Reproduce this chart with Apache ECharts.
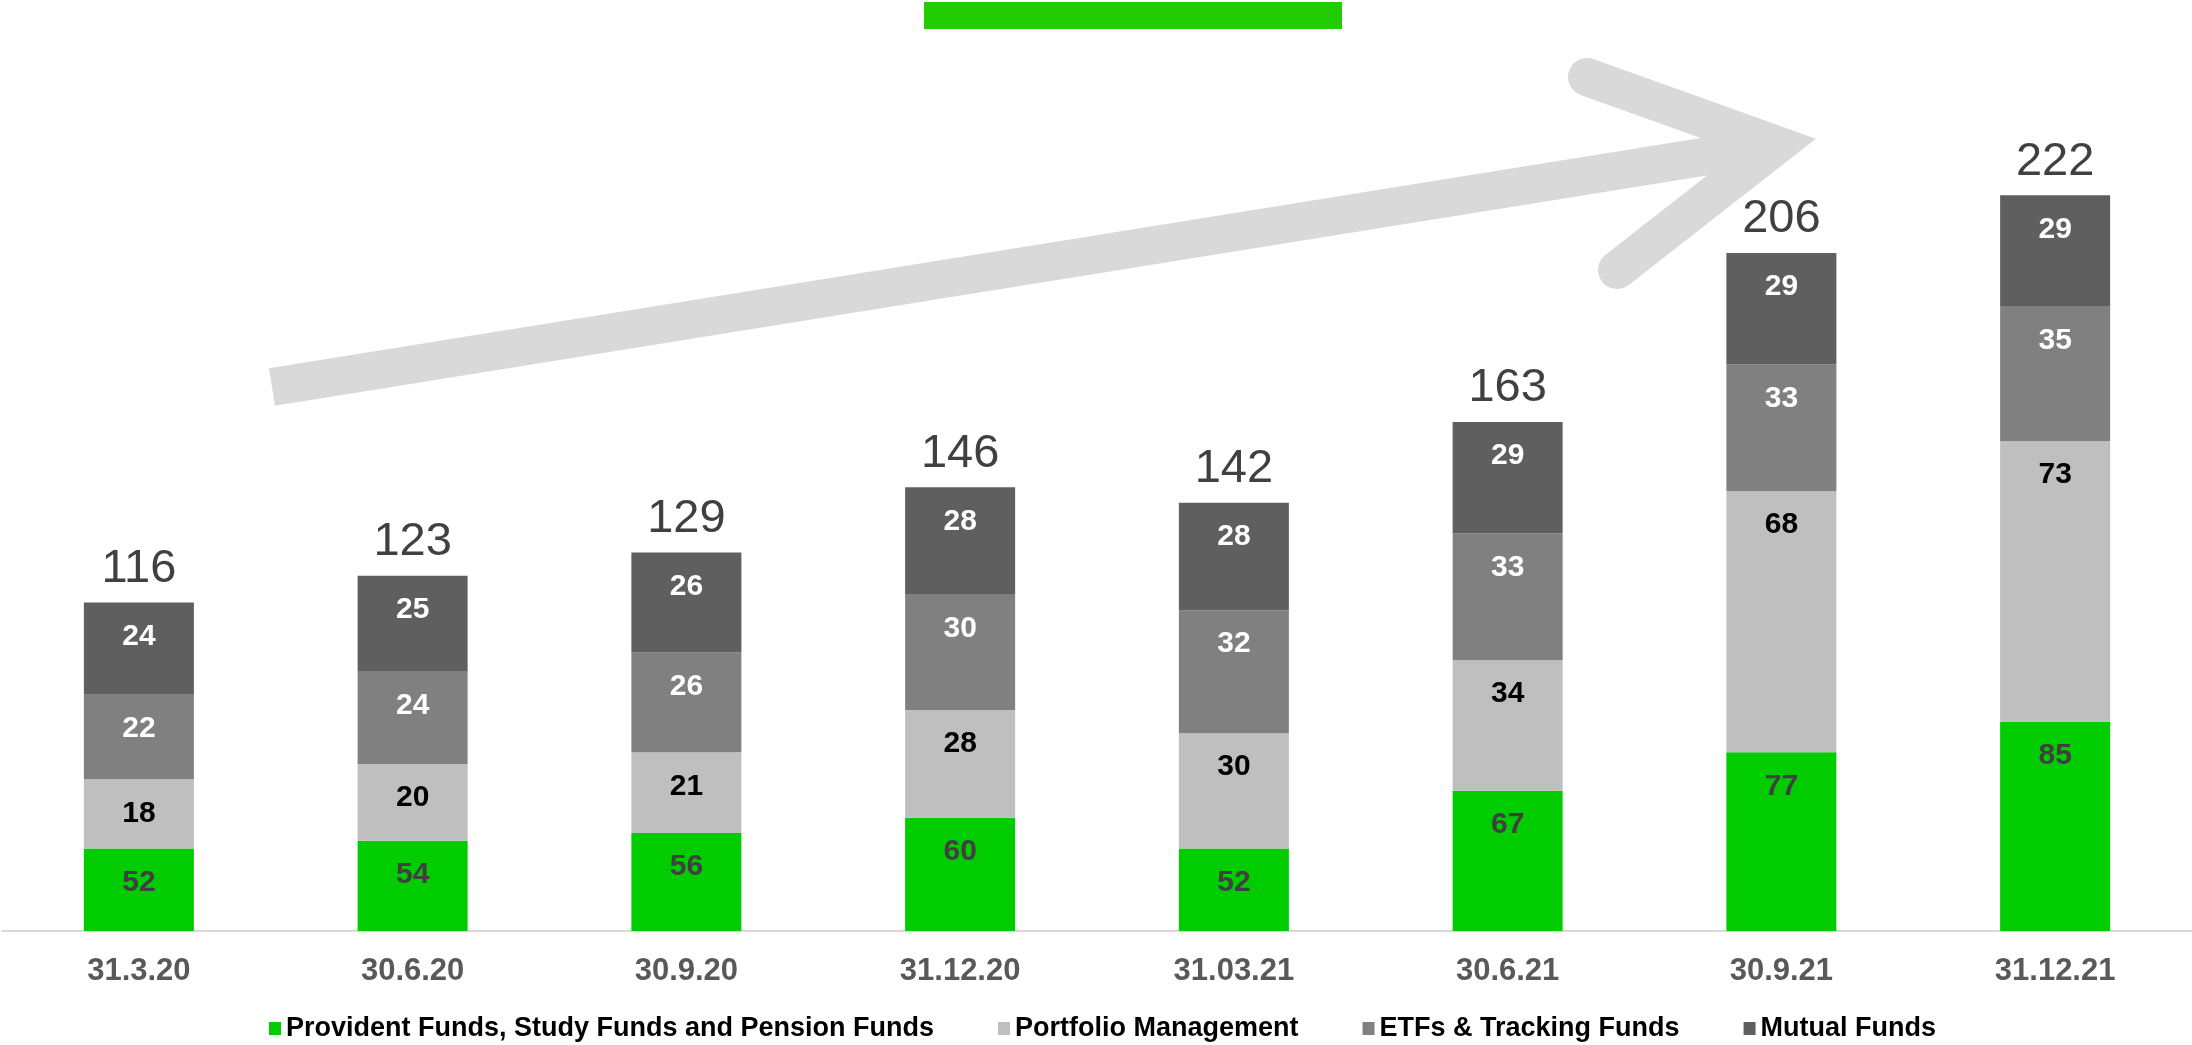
<!DOCTYPE html>
<html>
<head>
<meta charset="utf-8">
<script src="https://cdn.jsdelivr.net/npm/echarts@6/dist/echarts.min.js"></script>
<style>
html,body{margin:0;padding:0;background:#fff;}
#chart{width:2192px;height:1045px;}
</style>
</head>
<body>
<div id="chart"></div>
<script>
const categories = ['31.3.20','30.6.20','30.9.20','31.12.20','31.03.21','30.6.21','30.9.21','31.12.21'];
const providentFunds = [52,54,56,60,52,67,77,85];
const portfolioManagement = [18,20,21,28,30,34,68,73];
const etfsTracking = [22,24,26,30,32,33,33,35];
const mutualFunds = [24,25,26,28,28,29,29,29];
const totals = [116,123,129,146,142,163,206,222];
const seriesNames = ['Provident Funds, Study Funds and Pension Funds','Portfolio Management','ETFs & Tracking Funds','Mutual Funds'];

const FONT = '"Liberation Sans", Arial, sans-serif';
const chart = echarts.init(document.getElementById('chart'));

function segLabel(color) {
  return {
    show: true, position: 'insideTop', distance: 19,
    color: color, fontFamily: FONT, fontWeight: 'bold', fontSize: 30
  };
}

const option = {
  animation: false,
  backgroundColor: '#ffffff',
  grid: { left: 2, right: -1, top: 9, bottom: 114, containLabel: false },
  xAxis: {
    type: 'category',
    data: categories,
    axisLine: { show: true, lineStyle: { color: '#D9D9D9', width: 2 } },
    axisTick: { show: false },
    axisLabel: { color: '#595959', fontFamily: FONT, fontWeight: 'bold', fontSize: 31, margin: 25 }
  },
  yAxis: {
    type: 'value', min: 30.5, max: 270.5, show: false,
    splitLine: { show: false }
  },
  legend: {
    data: seriesNames,
    left: 264, top: 1010,
    icon: 'rect', itemWidth: 12, itemHeight: 13, itemGap: 64,
    textStyle: { color: '#000000', fontFamily: FONT, fontWeight: 'bold', fontSize: 27 }
  },
  graphic: [
    { type: 'rect', z: 0, shape: { x: 924, y: 2, width: 418, height: 27 }, style: { fill: '#22CC00' } },
    { type: 'polyline', z: 0, shape: { points: [[272,387],[1777,145]] },
      style: { stroke: '#D9D9D9', lineWidth: 38, lineCap: 'butt', fill: null } },
    { type: 'polyline', z: 0, shape: { points: [[1587,77],[1777,145],[1617,270]] },
      style: { stroke: '#D9D9D9', lineWidth: 38, lineCap: 'round', lineJoin: 'miter', miterLimit: 10, fill: null } }
  ],
  series: [
    { name: seriesNames[0], type: 'bar', stack: 'a', barWidth: 110, data: providentFunds,
      itemStyle: { color: '#00CC00' }, label: segLabel('#404040') },
    { name: seriesNames[1], type: 'bar', stack: 'a', barWidth: 110, data: portfolioManagement,
      itemStyle: { color: '#BFBFBF' }, label: segLabel('#000000') },
    { name: seriesNames[2], type: 'bar', stack: 'a', barWidth: 110, data: etfsTracking,
      itemStyle: { color: '#808080' }, label: segLabel('#FFFFFF') },
    { name: seriesNames[3], type: 'bar', stack: 'a', barWidth: 110, data: mutualFunds,
      itemStyle: { color: '#5F5F5F' }, label: segLabel('#FFFFFF') },
    { name: 'Total', type: 'bar', stack: 'a', barWidth: 110, data: totals.map(() => 0),
      itemStyle: { color: 'rgba(0,0,0,0)' },
      label: { show: true, position: 'top', distance: 10, color: '#404040', fontFamily: FONT, fontSize: 47,
        formatter: p => String(totals[p.dataIndex]) } }
  ]
};
chart.setOption(option);
</script>
</body>
</html>
